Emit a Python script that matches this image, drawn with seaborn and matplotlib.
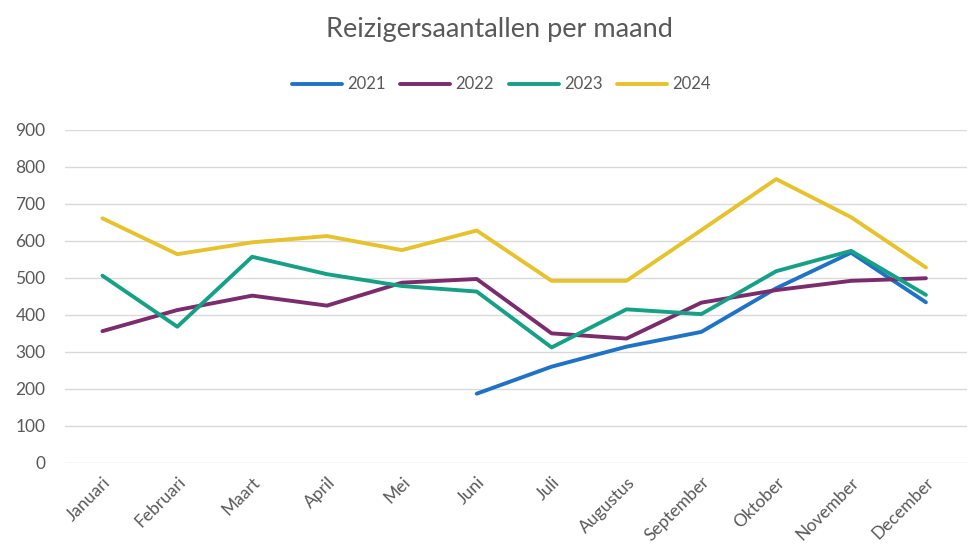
import numpy as np
import pandas as pd
import matplotlib
matplotlib.use("Agg")
import matplotlib.pyplot as plt
import seaborn as sns

# Maanden en reizigersaantallen per jaar
maanden = ["Januari", "Februari", "Maart", "April", "Mei", "Juni",
           "Juli", "Augustus", "September", "Oktober", "November", "December"]
jaren = ["2021", "2022", "2023", "2024"]

r2021 = [np.nan, np.nan, np.nan, np.nan, np.nan, 187, 260, 314, 354, 472, 568, 434]
r2022 = [356, 413, 452, 425, 487, 497, 350, 336, 433, 467, 492, 499]
r2023 = [506, 368, 557, 510, 478, 463, 312, 415, 402, 518, 573, 454]
r2024 = [661, 564, 596, 613, 575, 628, 492, 492, 629, 767, 664, 528]

kleuren = ["#1F72C4", "#7A2C6C", "#16A085", "#E6C22C"]

# long format voor seaborn
df = pd.DataFrame({
    "maand": list(range(len(maanden))) * 4,
    "aantal": r2021 + r2022 + r2023 + r2024,
    "jaar": [j for j in jaren for _ in maanden],
}).dropna()

sns.set_style("white")
plt.rcParams["font.family"] = ["Lato", "DejaVu Sans"]

fig = plt.figure(figsize=(9.7, 5.55), dpi=100)
ax = fig.add_axes([0.067, 0.166, 0.93, 0.600])

sns.lineplot(data=df, x="maand", y="aantal", hue="jaar", hue_order=jaren,
             palette=kleuren, linewidth=2.8, sort=False, ax=ax)

ax.set_ylim(0, 900)
ax.set_xlim(-0.5, 11.55)
ax.set_yticks(range(0, 901, 100))
ax.set_xticks(range(len(maanden)))
ax.set_xticklabels(maanden, rotation=45, ha="right", rotation_mode="anchor")
ax.tick_params(axis="both", colors="#595959", labelsize=12.5, length=0)
ax.tick_params(axis="x", pad=8)
ax.tick_params(axis="y", pad=14)
ax.grid(axis="y", color="#D9D9D9", linewidth=1)
ax.set_axisbelow(True)
ax.set_xlabel("")
ax.set_ylabel("")
sns.despine(ax=ax, left=True, bottom=True)
for line in ax.get_lines():
    line.set_clip_on(False)

ax.legend(loc="center", bbox_to_anchor=(0.517, 0.848), bbox_transform=fig.transFigure,
          ncol=4, frameon=False, fontsize=12, handlelength=3.0, columnspacing=0.9,
          handletextpad=0.3, labelcolor="#595959")

fig.suptitle("Reizigersaantallen per maand", x=0.515, y=0.97, fontsize=19.5, color="#595959")

plt.savefig("out.png", dpi=100)
